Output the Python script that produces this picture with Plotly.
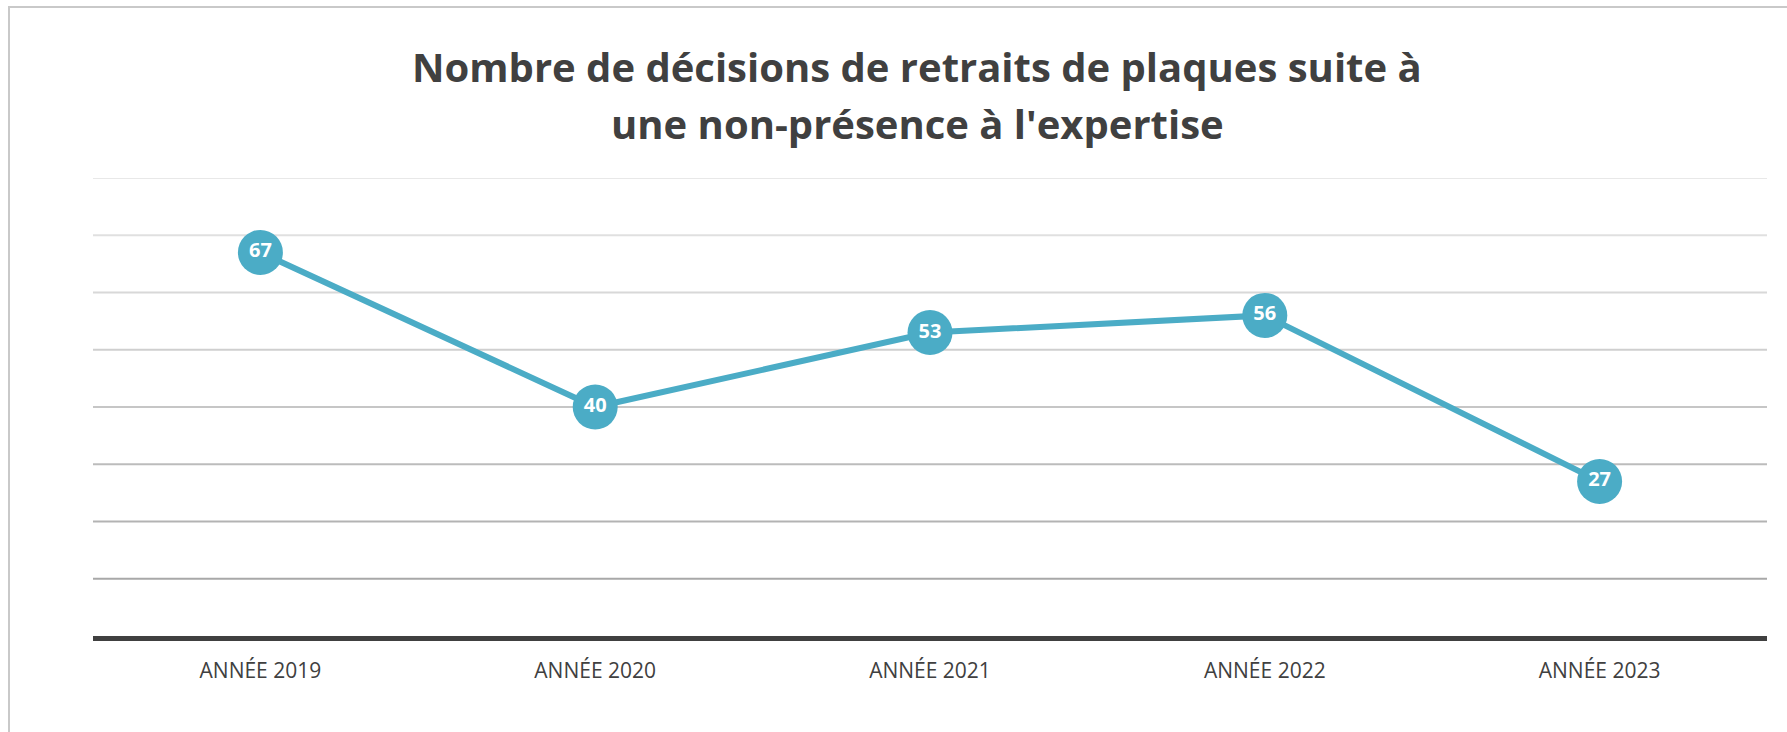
import plotly.graph_objects as go

# Chart data
years = ["ANNÉE 2019", "ANNÉE 2020", "ANNÉE 2021", "ANNÉE 2022", "ANNÉE 2023"]
decisions = [67, 40, 53, 56, 27]

# Value axis gridlines (lighter at the top, darker near the baseline)
grid_values = [10, 20, 30, 40, 50, 60, 70, 80]
grid_colors = ["#a8a8a8", "#b3b3b3", "#bcbcbc", "#c6c6c6",
               "#cfcfcf", "#d8d8d8", "#e0e0e0", "#e8e8e8"]

title_lines = ["Nombre de décisions de retraits de plaques suite à",
               "une non-présence à l'expertise"]

W, H = 1787, 732
ML, MR, MT, MB = 93, 20, 178, 96
pw, ph = W - ML - MR, H - MT - MB


def px_to_paper_y(py):
    return (H - MB - py) / ph


def px_to_paper_x(px):
    return (px - ML) / pw


fig = go.Figure()

fig.add_trace(go.Scatter(
    x=years,
    y=decisions,
    mode="lines+markers+text",
    line=dict(color="#4bacc6", width=6),
    marker=dict(size=45, color="#4bacc6", line=dict(width=0)),
    text=[str(v) for v in decisions],
    textposition="middle center",
    textfont=dict(family="Open Sans", size=20, color="white", weight="bold"),
    hoverinfo="skip",
    cliponaxis=False,
))

for v, c in zip(grid_values, grid_colors):
    fig.add_shape(type="line", xref="paper", yref="y",
                  x0=0, x1=1, y0=v, y1=v,
                  line=dict(color=c, width=2), layer="below")

# Outer chart frame (continues past the right and bottom edges)
fig.add_shape(type="rect", xref="paper", yref="paper",
              x0=px_to_paper_x(9), x1=px_to_paper_x(W + 40),
              y0=px_to_paper_y(H + 40), y1=px_to_paper_y(7),
              line=dict(color="#c9c9c9", width=2), layer="below")

# Two-line chart title
for line, cy in zip(title_lines, [66, 123]):
    fig.add_annotation(
        text=line, showarrow=False,
        xref="paper", yref="paper",
        x=px_to_paper_x(917), y=px_to_paper_y(cy),
        xanchor="center", yanchor="middle",
        font=dict(family="Open Sans", size=40, color="#404040", weight="bold"),
    )

fig.update_layout(
    width=W, height=H,
    margin=dict(l=ML, r=MR, t=MT, b=MB),
    paper_bgcolor="white",
    plot_bgcolor="white",
    showlegend=False,
    xaxis=dict(
        range=[-0.5, 4.5],
        showgrid=False,
        zeroline=False,
        showline=True,
        linecolor="#404040",
        linewidth=5,
        ticks="",
        tickfont=dict(family="Open Sans", size=21, color="#404040"),
        ticklabelstandoff=12,
    ),
    yaxis=dict(
        range=[0, 80],
        showgrid=False,
        zeroline=False,
        showticklabels=False,
        ticks="",
    ),
)

fig.write_html("out.html", config={"displayModeBar": False})
